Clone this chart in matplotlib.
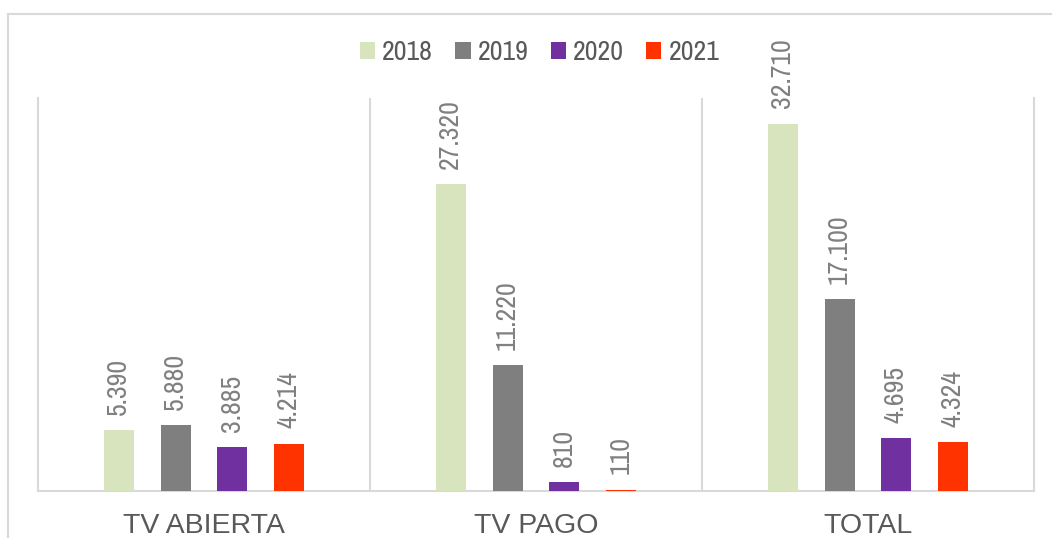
import matplotlib.pyplot as plt
from matplotlib.lines import Line2D
from matplotlib.patches import Patch
from matplotlib import font_manager
import numpy as np

plt.rcParams['font.family'] = ['Liberation Sans', 'DejaVu Sans']

categorias = ["TV ABIERTA", "TV PAGO", "TOTAL"]
anios = ["2018", "2019", "2020", "2021"]
valores_2018 = [5390, 27320, 32710]
valores_2019 = [5880, 11220, 17100]
valores_2020 = [3885, 810, 4695]
valores_2021 = [4214, 110, 4324]
colores = ["#d7e4bd", "#7f7f7f", "#7030a0", "#ff3300"]

series = [valores_2018, valores_2019, valores_2020, valores_2021]
gris_linea = "#d9d9d9"

# fuente estrecha tipo Arial Narrow, si hay alguna
narrow = sorted({f.name for f in font_manager.fontManager.ttflist if 'Narrow' in f.name},
                key=lambda n: 'Liberation' not in n)
fuente_estrecha = narrow[0] if narrow else 'Liberation Sans'

W, H = 1052, 538
fig = plt.figure(figsize=(W / 100, H / 100), dpi=100)
ax = fig.add_axes([38 / W, (H - 491) / H, (1034 - 38) / W, (491 - 98) / H])

x = np.arange(len(categorias))
ancho = 0.09
paso = 0.171
for i, vals in enumerate(series):
    pos = x + (i - 1.5) * paso
    barras = ax.bar(pos, vals, ancho, color=colores[i], zorder=3)
    for b, v in zip(barras, vals):
        ax.annotate(f"{v:,}".replace(",", "."),
                    (b.get_x() + b.get_width() / 2, b.get_height()),
                    xytext=(0, 11), textcoords="offset points",
                    rotation=90, ha="center", va="bottom",
                    family=fuente_estrecha, fontsize=20 if narrow else 16,
                    color="#808080")

ax.set_xlim(-0.5, 2.5)
ax.set_ylim(0, 35000)
ax.set_yticks([])
ax.set_xticks(x)
ax.set_xticklabels(categorias, fontsize=20.5, color="#595959")
ax.tick_params(axis="x", length=0, pad=15.5)

ax.spines["top"].set_visible(False)
for s in ["left", "right", "bottom"]:
    ax.spines[s].set_color(gris_linea)
    ax.spines[s].set_linewidth(1.5)
for sep in [0.5, 1.5]:
    ax.axvline(sep, color=gris_linea, lw=1.5, zorder=1)

# borde exterior del grafico
fig.add_artist(Line2D([8 / W, 8 / W], [0, 1 - 14 / H], color=gris_linea, lw=1.5))
fig.add_artist(Line2D([8 / W, 1], [1 - 14 / H, 1 - 14 / H], color=gris_linea, lw=1.5))

handles = [Patch(facecolor=c, label=a) for c, a in zip(colores, anios)]
fs = 20 if narrow else 16
fig.legend(handles=handles, loc="center", bbox_to_anchor=(0.513, 1 - 53 / H),
           ncol=4, frameon=False,
           prop={'family': fuente_estrecha, 'size': fs, 'weight': 'normal'},
           labelcolor="#595959", handlelength=0.55, handleheight=0.55,
           handletextpad=0.25, columnspacing=0.8, borderaxespad=0)

fig.savefig("out.png", dpi=100)
